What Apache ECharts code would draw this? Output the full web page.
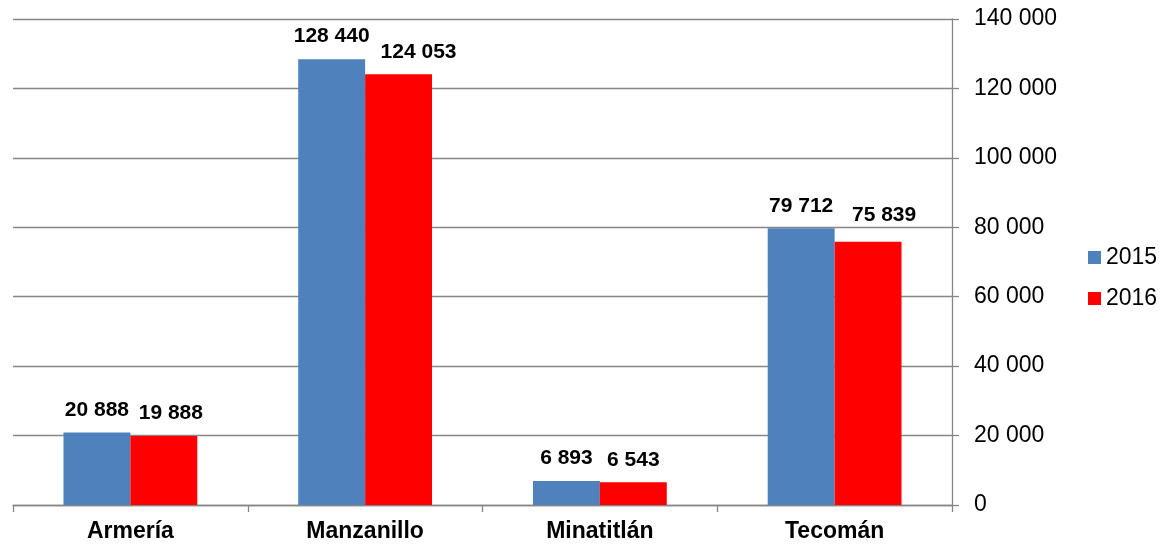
<!DOCTYPE html>
<html><head><meta charset="utf-8">
<script src="https://cdn.jsdelivr.net/npm/echarts@6/dist/echarts.min.js"></script>
<style>html,body{margin:0;padding:0;background:#fff}#c{width:1164px;height:547px}</style>
</head><body><div id="c"></div>
<script>
const categories = ['Armería', 'Manzanillo', 'Minatitlán', 'Tecomán'];
const seriesNames = ['2015', '2016'];
const values2015 = [20888, 128440, 6893, 79712];
const values2016 = [19888, 124053, 6543, 75839];
const colors = ['#4F81BD', '#FF0000'];
// label nudges (style only) for the 2016 labels, as placed in the original
const labelNudge2016 = [[7, 0], [20, 0], [0, 0], [16, -4]];

function fmt(v) { return String(v).replace(/\B(?=(\d{3})+(?!\d))/g, ' '); }

const chart = echarts.init(document.getElementById('c'));
const font = 'Liberation Sans, Arial, sans-serif';
const labelCfg = { show: true, position: 'top', distance: 12, fontFamily: font, fontWeight: 'bold', fontSize: 21, color: '#000', formatter: p => fmt(p.value) };
chart.setOption({
  animation: false,
  grid: { left: 13, right: 212, top: 19, bottom: 42 },
  legend: {
    orient: 'vertical', left: 1083, top: 241, itemWidth: 13, itemHeight: 13, itemGap: 18,
    icon: 'rect', textStyle: { fontFamily: font, fontSize: 23, color: '#000' },
    data: seriesNames
  },
  xAxis: {
    type: 'category', data: categories,
    axisLine: { lineStyle: { color: '#868686', width: 1.3 } },
    axisTick: { show: true, alignWithLabel: false, length: 7, lineStyle: { color: '#868686', width: 1.3 } },
    axisLabel: { fontFamily: font, fontWeight: 'bold', fontSize: 23, color: '#000', margin: 15 }
  },
  yAxis: {
    type: 'value', position: 'right', min: 0, max: 140000, interval: 20000,
    axisLine: { show: true, lineStyle: { color: '#868686', width: 1.3 } },
    axisTick: { show: true, length: 7, lineStyle: { color: '#868686', width: 1.3 } },
    splitLine: { lineStyle: { color: '#868686', width: 1.3 } },
    axisLabel: { fontFamily: font, fontSize: 23, color: '#000', margin: 22, formatter: v => fmt(v) }
  },
  series: [
    { name: seriesNames[0], type: 'bar', data: values2015, itemStyle: { color: colors[0] }, barGap: '0%', barCategoryGap: '43%', label: labelCfg },
    { name: seriesNames[1], type: 'bar',
      data: values2016.map((v, i) => ({ value: v, label: { offset: labelNudge2016[i] } })),
      itemStyle: { color: colors[1] }, barGap: '0%', barCategoryGap: '43%', label: labelCfg }
  ]
});
</script></body></html>
